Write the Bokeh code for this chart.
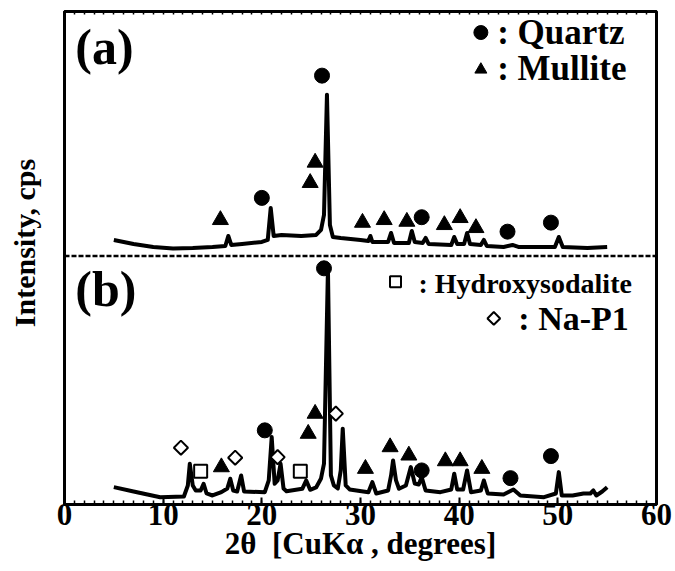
from bokeh.plotting import figure
from bokeh.models import Range1d, LinearAxis, FixedTicker, Span, Label
from bokeh.embed import file_html
from bokeh.resources import INLINE

# ---------------- data (2theta in degrees, intensity in arbitrary cps units) -------------
two_theta_a = [5.0, 7.0, 9.0, 11.0, 13.0, 15.0, 16.3, 16.6, 16.9, 18.0, 20.0, 20.6, 20.9, 21.2,
               22.0, 24.0, 25.5, 26.0, 26.3, 26.6, 26.9, 27.2, 28.0, 30.0, 30.8, 31.0, 31.2,
               32.8, 33.1, 33.4, 34.9, 35.2, 35.5, 36.3, 36.6, 36.9, 39.2, 39.5, 39.8, 40.5,
               40.8, 41.1, 42.2, 42.5, 42.8, 44.5, 45.4, 46.0, 49.7, 50.1, 50.5, 53.0, 55.0]
intensity_a = [160, 120, 90, 75, 80, 90, 100, 200, 110, 120, 140, 160, 480, 200,
               210, 200, 210, 260, 410, 1610, 310, 190, 180, 160, 150, 200, 140,
               140, 230, 130, 130, 250, 140, 130, 180, 120, 110, 190, 120, 120,
               230, 120, 110, 160, 100, 90, 110, 90, 90, 190, 90, 80, 90]

two_theta_b = [5.0, 7.0, 9.7, 12.1, 12.5, 12.7, 13.0, 13.3, 13.8, 14.1, 14.4, 15.0, 15.9, 16.5,
               16.8, 17.1, 17.5, 17.9, 18.2, 20.3, 20.7, 21.0, 21.3, 21.6, 21.9, 22.2, 22.5,
               24.1, 24.5, 24.9, 25.5, 26.0, 26.3, 26.7, 27.0, 27.3, 27.7, 28.0, 28.2, 28.5,
               28.9, 30.8, 31.2, 31.6, 32.8, 33.1, 33.3, 33.6, 33.9, 34.6, 35.1, 35.5, 35.9,
               36.2, 36.6, 38.1, 39.2, 39.5, 39.8, 40.4, 40.8, 41.2, 42.2, 42.5, 42.9, 44.5,
               45.5, 46.2, 48.6, 49.8, 50.1, 50.4, 51.5, 52.6, 53.3, 53.6, 53.9, 54.5, 55.0]
intensity_b = [173, 130, 73, 80, 190, 407, 190, 140, 140, 207, 110, 90, 123, 160,
               257, 140, 130, 290, 130, 123, 240, 673, 207, 240, 407, 160, 133,
               157, 240, 147, 170, 260, 407, 2357, 290, 190, 160, 340, 757, 190,
               150, 123, 223, 110, 140, 290, 440, 240, 157, 190, 373, 210, 200,
               273, 140, 123, 150, 307, 150, 150, 340, 123, 140, 240, 110, 100,
               150, 90, 73, 110, 323, 90, 90, 110, 110, 140, 90, 130, 173]

# phase markers (2theta, height)
quartz_a_x = [26.1, 20.0, 36.2, 44.9, 49.3]
quartz_a_y = [1800, 580, 387, 243, 333]
mullite_a_x = [15.8, 24.9, 25.4, 30.2, 32.4, 34.7, 38.5, 40.1, 41.7]
mullite_a_y = [360, 730, 933, 333, 360, 343, 310, 380, 280]

quartz_b_x = [26.3, 20.3, 36.2, 45.2, 49.3]
quartz_b_y = [2357, 740, 340, 263, 483]
mullite_b_x = [24.7, 25.4, 15.9, 30.5, 33.0, 34.9, 38.6, 40.1, 42.3]
mullite_b_y = [707, 907, 373, 357, 573, 490, 433, 433, 357]
sodalite_b_x = [13.8, 23.9]
sodalite_b_y = [333, 333]
nap1_b_x = [11.8, 17.3, 21.6, 27.5]
nap1_b_y = [567, 467, 473, 907]

OFFSET_A = 2480          # vertical offset of pattern (a)
Y_MAX = 4920
x_ticks = [0, 10, 20, 30, 40, 50, 60]

FONT = "Liberation Serif"

p = figure(width=675, height=571, x_range=Range1d(0, 60), y_range=Range1d(0, Y_MAX),
           output_backend="svg", toolbar_location=None,
           min_border_left=64, min_border_right=19, min_border_top=11, min_border_bottom=67)
p.grid.visible = False
p.outline_line_color = "black"
p.outline_line_width = 3
p.background_fill_color = "white"

# bottom axis
xa = p.xaxis[0]
xa.ticker = FixedTicker(ticks=x_ticks, minor_ticks=list(range(0, 61)))
xa.axis_line_width = 3
xa.major_tick_in = 7
xa.major_tick_out = 0
xa.minor_tick_in = 4
xa.minor_tick_out = 0
xa.major_tick_line_width = 2
xa.minor_tick_line_width = 1.5
xa.major_label_text_font = FONT
xa.major_label_text_font_style = "bold"
xa.major_label_text_font_size = "31px"
xa.major_label_text_color = "black"
xa.major_label_standoff = -1
xa.axis_label = "2θ\u00a0\u00a0[CuKα\u00a0, degrees]"
xa.axis_label_text_font = FONT
xa.axis_label_text_font_style = "bold"
xa.axis_label_text_font_size = "31px"
xa.axis_label_text_color = "black"
xa.axis_label_standoff = -2

# left axis
ya = p.yaxis[0]
ya.ticker = FixedTicker(ticks=[])
ya.axis_line_width = 3
ya.major_tick_in = 0
ya.major_tick_out = 0
ya.minor_tick_in = 0
ya.minor_tick_out = 0
ya.axis_label = "\u00a0\u00a0\u00a0\u00a0Intensity, cps"
ya.axis_label_text_font = FONT
ya.axis_label_text_font_style = "bold"
ya.axis_label_text_font_size = "30px"
ya.axis_label_text_color = "black"
ya.axis_label_standoff = 24

# top axis with inner minor ticks only
ta = LinearAxis(ticker=FixedTicker(ticks=[], minor_ticks=list(range(0, 61))))
ta.major_tick_in = 0
ta.major_tick_out = 0
ta.minor_tick_in = 3
ta.minor_tick_out = 0
ta.minor_tick_line_width = 1.5
ta.axis_line_width = 3
ta.major_label_standoff = 0
p.add_layout(ta, "above")

# separator between the two patterns
p.add_layout(Span(location=OFFSET_A, dimension="width", line_color="black",
                  line_width=2.5, line_dash="5 2"))

# patterns
p.line(two_theta_a, [v + OFFSET_A for v in intensity_a], line_color="black", line_width=4,
       line_join="round")
p.line(two_theta_b, intensity_b, line_color="black", line_width=4, line_join="round")

# markers
p.scatter(quartz_a_x, [v + OFFSET_A for v in quartz_a_y], marker="circle", size=15,
          color="black")
p.scatter(mullite_a_x, [v + OFFSET_A for v in mullite_a_y], marker="triangle", size=16,
          color="black")
p.scatter(quartz_b_x, quartz_b_y, marker="circle", size=15, color="black")
p.scatter(mullite_b_x, mullite_b_y, marker="triangle", size=16, color="black")
p.scatter(sodalite_b_x, sodalite_b_y, marker="square", size=13, fill_color="white",
          line_color="black", line_width=2)
p.scatter(nap1_b_x, nap1_b_y, marker="square", angle=0.785398, size=10, fill_color="white",
          line_color="black", line_width=2)

# legends / panel labels
leg_sym_x = [42.2, 42.2, 33.55, 43.51]
leg_sym_y = [4710, 4340, 2223, 1857]
p.scatter([leg_sym_x[0]], [leg_sym_y[0]], marker="circle", size=14, color="black")
p.scatter([leg_sym_x[1]], [leg_sym_y[1]], marker="triangle", size=12, color="black")
p.scatter([leg_sym_x[2]], [leg_sym_y[2]], marker="square", size=11, fill_color="white",
          line_color="black", line_width=2)
p.scatter([leg_sym_x[3]], [leg_sym_y[3]], marker="square", angle=0.785398, size=9,
          fill_color="white", line_color="black", line_width=2)

legend_texts = [": Quartz", ": Mullite", ": Hydroxysodalite", ": Na-P1"]
legend_x = [43.85, 43.85, 35.88, 46.0]
legend_y = [4710, 4350, 2210, 1860]
legend_sizes = ["35px", "35px", "28px", "34px"]
for t, lx, ly, fs in zip(legend_texts, legend_x, legend_y, legend_sizes):
    p.add_layout(Label(x=lx, y=ly, text=t, text_font=FONT, text_font_style="bold",
                       text_font_size=fs, text_baseline="middle", text_align="left",
                       text_color="black"))

panel_labels = ["(a)", "(b)"]
panel_x = [1.1, 1.1]
panel_y = [4565, 2150]
for t, lx, ly in zip(panel_labels, panel_x, panel_y):
    p.add_layout(Label(x=lx, y=ly, text=t, text_font=FONT, text_font_style="bold",
                       text_font_size="50px", text_baseline="middle", text_align="left",
                       text_color="black"))

open("out.html", "w").write(file_html(p, INLINE))
